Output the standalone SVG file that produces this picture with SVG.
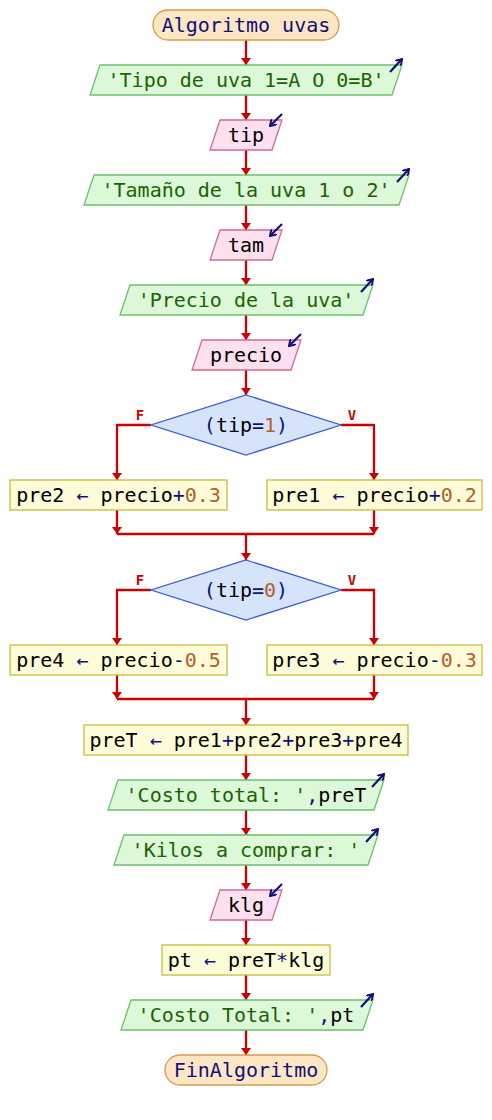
<svg xmlns="http://www.w3.org/2000/svg" width="492" height="1120" viewBox="0 0 492 1120">
<style>
text{font-family:"DejaVu Sans Mono","Liberation Mono",monospace;font-size:20px;text-anchor:middle;white-space:pre;fill:#000}
.term{fill:#fde6c4;stroke:#d49a4c;stroke-width:1.3}
.out{fill:#dcf8d8;stroke:#6cc06c;stroke-width:1.3}
.inp{fill:#fde0ee;stroke:#cc6c98;stroke-width:1.3}
.proc{fill:#fdfbd8;stroke:#c8bc3c;stroke-width:1.3}
.dec{fill:#d6e4fb;stroke:#3c5ccc;stroke-width:1.3}
.kw{fill:#10107a}
.str{fill:#1a6400}
.num{fill:#b4602a}
.op{fill:#10107a}
.lab{font-size:14px;font-weight:bold;fill:#cc0000}
.c{fill:none;stroke:#cc0000;stroke-width:2.3}
.ic{fill:none;stroke:#10107a;stroke-width:2.2}
</style>
<defs>
<marker id="ah" viewBox="0 0 7 10" refX="7" refY="5" markerWidth="7" markerHeight="10" markerUnits="userSpaceOnUse" orient="auto"><path d="M0,0 L7,5 L0,10 z" fill="#cc0000"/></marker>
<marker id="ai" viewBox="0 0 7 8" refX="6" refY="4" markerWidth="7" markerHeight="8" markerUnits="userSpaceOnUse" orient="auto"><path d="M0,0 L6,4 L0,8" fill="none" stroke="#10107a" stroke-width="2"/></marker>
</defs>
<g id="connectors">
<path class="c" d="M246,40 V65" marker-end="url(#ah)"/>
<path class="c" d="M246,95 V120" marker-end="url(#ah)"/>
<path class="c" d="M246,150 V175" marker-end="url(#ah)"/>
<path class="c" d="M246,205 V230" marker-end="url(#ah)"/>
<path class="c" d="M246,260 V285" marker-end="url(#ah)"/>
<path class="c" d="M246,315 V340" marker-end="url(#ah)"/>
<path class="c" d="M246,370 V395" marker-end="url(#ah)"/>
<path class="c" d="M151,425 H117 V480" marker-end="url(#ah)"/>
<path class="c" d="M341,425 H374 V480" marker-end="url(#ah)"/>
<path class="c" d="M117,510 V534" marker-end="url(#ah)"/>
<path class="c" d="M374,510 V534" marker-end="url(#ah)"/>
<path class="c" d="M117,534 H374"/>
<path class="c" d="M246,534 V560" marker-end="url(#ah)"/>
<path class="c" d="M151,590 H117 V645" marker-end="url(#ah)"/>
<path class="c" d="M341,590 H374 V645" marker-end="url(#ah)"/>
<path class="c" d="M117,675 V699" marker-end="url(#ah)"/>
<path class="c" d="M374,675 V699" marker-end="url(#ah)"/>
<path class="c" d="M117,699 H374"/>
<path class="c" d="M246,699 V725" marker-end="url(#ah)"/>
<path class="c" d="M246,755 V780" marker-end="url(#ah)"/>
<path class="c" d="M246,810 V835" marker-end="url(#ah)"/>
<path class="c" d="M246,865 V890" marker-end="url(#ah)"/>
<path class="c" d="M246,920 V945" marker-end="url(#ah)"/>
<path class="c" d="M246,975 V1000" marker-end="url(#ah)"/>
<path class="c" d="M246,1030 V1055" marker-end="url(#ah)"/>
<text class="lab" x="140" y="420">F</text>
<text class="lab" x="352" y="420">V</text>
<text class="lab" x="140" y="585">F</text>
<text class="lab" x="352" y="585">V</text>
</g>
<g id="start">
<rect class="term" x="153" y="10" width="186" height="30" rx="15"/>
<text x="246" y="32" class="kw">Algoritmo uvas</text>
</g>
<g id="out1">
<polygon class="out" points="100,65 402,65 392,95 90,95"/>
<text x="246" y="87" class="str">'Tipo de uva 1=A O 0=B'</text>
<path class="ic" d="M390,72 L402,59" marker-end="url(#ai)"/>
</g>
<g id="in_tip">
<polygon class="inp" points="220,120 282,120 272,150 210,150"/>
<text x="246" y="142">tip</text>
<path class="ic" d="M282,114 L270,126" marker-end="url(#ai)"/>
</g>
<g id="out2">
<polygon class="out" points="94,175 409,175 399,205 84,205"/>
<text x="246" y="197" class="str">'Tamaño de la uva 1 o 2'</text>
<path class="ic" d="M397,182 L409,169" marker-end="url(#ai)"/>
</g>
<g id="in_tam">
<polygon class="inp" points="220,230 282,230 272,260 210,260"/>
<text x="246" y="252">tam</text>
<path class="ic" d="M282,224 L270,236" marker-end="url(#ai)"/>
</g>
<g id="out3">
<polygon class="out" points="130,285 373,285 363,315 120,315"/>
<text x="246" y="307" class="str">'Precio de la uva'</text>
<path class="ic" d="M361,292 L373,279" marker-end="url(#ai)"/>
</g>
<g id="in_precio">
<polygon class="inp" points="202,340 301,340 291,370 192,370"/>
<text x="246" y="362">precio</text>
<path class="ic" d="M301,334 L289,346" marker-end="url(#ai)"/>
</g>
<g id="dec1">
<polygon class="dec" points="246,395 341,425 246,455 151,425"/>
<text x="246" y="432"><tspan class="op">(</tspan>tip<tspan class="op">=</tspan><tspan class="num">1</tspan><tspan class="op">)</tspan></text>
</g>
<g id="pre2">
<rect class="proc" x="10" y="480" width="217" height="30"/>
<text x="118.5" y="502">pre2 <tspan class="op">←</tspan> precio<tspan class="op">+</tspan><tspan class="num">0.3</tspan></text>
</g>
<g id="pre1">
<rect class="proc" x="267" y="480" width="215" height="30"/>
<text x="374.5" y="502">pre1 <tspan class="op">←</tspan> precio<tspan class="op">+</tspan><tspan class="num">0.2</tspan></text>
</g>
<g id="dec2">
<polygon class="dec" points="246,560 341,590 246,620 151,590"/>
<text x="246" y="597"><tspan class="op">(</tspan>tip<tspan class="op">=</tspan><tspan class="num">0</tspan><tspan class="op">)</tspan></text>
</g>
<g id="pre4">
<rect class="proc" x="10" y="645" width="217" height="30"/>
<text x="118.5" y="667">pre4 <tspan class="op">←</tspan> precio<tspan class="op">-</tspan><tspan class="num">0.5</tspan></text>
</g>
<g id="pre3">
<rect class="proc" x="267" y="645" width="215" height="30"/>
<text x="374.5" y="667">pre3 <tspan class="op">←</tspan> precio<tspan class="op">-</tspan><tspan class="num">0.3</tspan></text>
</g>
<g id="preT">
<rect class="proc" x="84" y="725" width="324" height="30"/>
<text x="246" y="747">preT <tspan class="op">←</tspan> pre1<tspan class="op">+</tspan>pre2<tspan class="op">+</tspan>pre3<tspan class="op">+</tspan>pre4</text>
</g>
<g id="out4">
<polygon class="out" points="118,780 384,780 374,810 108,810"/>
<text x="246" y="802"><tspan class="str">'Costo total: '</tspan><tspan class="op">,</tspan>preT</text>
<path class="ic" d="M372,787 L384,774" marker-end="url(#ai)"/>
</g>
<g id="out5">
<polygon class="out" points="124,835 378,835 368,865 114,865"/>
<text x="246" y="857" class="str">'Kilos a comprar: '</text>
<path class="ic" d="M366,842 L378,829" marker-end="url(#ai)"/>
</g>
<g id="in_klg">
<polygon class="inp" points="220,890 282,890 272,920 210,920"/>
<text x="246" y="912">klg</text>
<path class="ic" d="M282,884 L270,896" marker-end="url(#ai)"/>
</g>
<g id="pt">
<rect class="proc" x="162" y="945" width="168" height="30"/>
<text x="246" y="967">pt <tspan class="op">←</tspan> preT<tspan class="op">*</tspan>klg</text>
</g>
<g id="out6">
<polygon class="out" points="131,1000 373,1000 363,1030 121,1030"/>
<text x="246" y="1022"><tspan class="str">'Costo Total: '</tspan><tspan class="op">,</tspan>pt</text>
<path class="ic" d="M361,1007 L373,994" marker-end="url(#ai)"/>
</g>
<g id="end">
<rect class="term" x="165" y="1055" width="162" height="30" rx="15"/>
<text x="246" y="1077" class="kw">FinAlgoritmo</text>
</g>
</svg>
